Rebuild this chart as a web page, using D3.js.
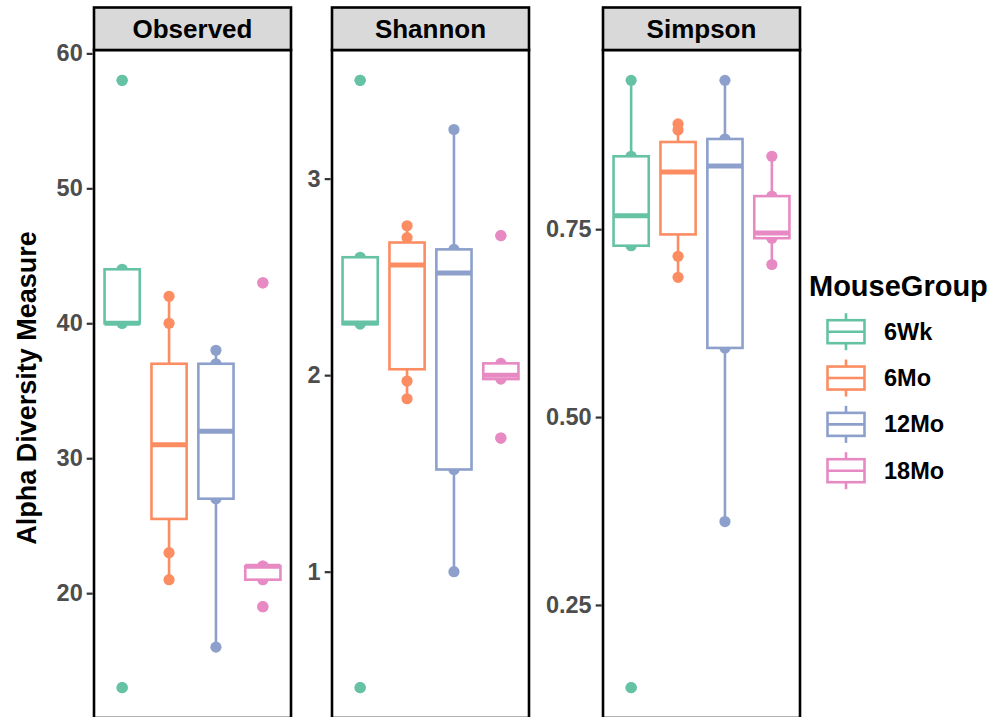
<!DOCTYPE html>
<html><head><meta charset="utf-8">
<script src="https://cdn.jsdelivr.net/npm/d3@7"></script>
<style>
body{margin:0;background:#fff}
svg{display:block}
text{font-family:"Liberation Sans",Arial,Helvetica,sans-serif;font-weight:bold}
</style>
</head><body><svg id="c" width="1006" height="717"></svg>
<script>
// ---- data ----
const groups = ["6Wk","6Mo","12Mo","18Mo"];
const metrics = ["Observed","Shannon","Simpson"];
const colors = ["#66C2A5","#FC8D62","#8DA0CB","#E78AC3"];
const observed6Wk  = [13,40,40,44,58];
const observed6Mo  = [21,23,28,31,34,40,42];
const observed12Mo = [16,27,32,37,38];
const observed18Mo = [19,21,22,22,43];
const shannon6Wk  = [0.41,2.26,2.265,2.6,3.5];
const shannon6Mo  = [1.88,1.97,2.09,2.56,2.65,2.70,2.76];
const shannon12Mo = [1.0,1.52,2.52,2.64,3.25];
const shannon18Mo = [1.68,1.98,2.0,2.06,2.71];
const simpson6Wk  = [0.14,0.728,0.768,0.847,0.948];
const simpson6Mo  = [0.686,0.714,0.772,0.826,0.85,0.882,0.89];
const simpson12Mo = [0.361,0.592,0.834,0.87,0.948];
const simpson18Mo = [0.703,0.738,0.745,0.794,0.847];
const observedTicks = [20,30,40,50,60];
const shannonTicks = [1,2,3];
const simpsonTicks = [0.25,0.5,0.75];
const yTitle = "Alpha Diversity Measure";
const legendTitle = "MouseGroup";

// ---- assembled ----
const seriesByMetric = [
  [observed6Wk, observed6Mo, observed12Mo, observed18Mo],
  [shannon6Wk, shannon6Mo, shannon12Mo, shannon18Mo],
  [simpson6Wk, simpson6Mo, simpson12Mo, simpson18Mo]
];
const ticksByMetric = [observedTicks, shannonTicks, simpsonTicks];
const formats = [d3.format("d"), d3.format("d"), d3.format(".2f")];

// ---- layout ----
const panelX = [[94,291],[332,529],[603,800]];
const panelTop = 50, panelBottom = 718, stripTop = 7.5;
const color = d3.scaleOrdinal().domain(groups).range(colors);
const svg = d3.select("#c");

function stats(arr){
  const s = arr.slice().sort(d3.ascending);
  const q1 = d3.quantile(s,0.25), med = d3.quantile(s,0.5), q3 = d3.quantile(s,0.75);
  const iqr = q3 - q1;
  const inl = s.filter(v => v >= q1 - 1.5*iqr && v <= q3 + 1.5*iqr);
  return {q1, med, q3, lo: d3.min(inl), hi: d3.max(inl), pts: s};
}

metrics.forEach((m, mi) => {
  const [x0, x1] = panelX[mi];
  const all = seriesByMetric[mi].flat();
  const [mn, mx] = d3.extent(all);
  const pad = (mx - mn) * 0.05;
  const y = d3.scaleLinear().domain([mn - pad, mx + pad]).range([panelBottom, panelTop]);
  const x = d3.scaleBand().domain(groups).range([x0, x1]).paddingInner(0).paddingOuter(0.1);
  const bw = x.bandwidth() * 0.75;

  const clipId = "clip" + mi;
  svg.append("clipPath").attr("id", clipId).append("rect")
    .attr("x", x0).attr("y", panelTop).attr("width", x1 - x0).attr("height", panelBottom - panelTop);

  const g = svg.append("g").attr("clip-path", `url(#${clipId})`);
  g.append("rect").attr("x", x0).attr("y", panelTop).attr("width", x1-x0).attr("height", panelBottom-panelTop).attr("fill","#fff");

  // points (underneath)
  groups.forEach((grp, gi) => {
    const data = seriesByMetric[mi][gi];
    const cx = x(grp) + x.bandwidth()/2;
    g.selectAll(null).data(data).enter().append("circle")
      .attr("cx", cx).attr("cy", d => y(d)).attr("r", 5.6).attr("fill", color(grp));
  });
  // boxplots
  groups.forEach((grp, gi) => {
    const st = stats(seriesByMetric[mi][gi]);
    const cx = x(grp) + x.bandwidth()/2;
    const c = color(grp);
    g.append("line").attr("x1", cx).attr("x2", cx).attr("y1", y(st.q3)).attr("y2", y(st.hi))
      .attr("stroke", c).attr("stroke-width", 2.6);
    g.append("line").attr("x1", cx).attr("x2", cx).attr("y1", y(st.q1)).attr("y2", y(st.lo))
      .attr("stroke", c).attr("stroke-width", 2.6);
    g.append("rect").attr("x", cx - bw/2).attr("width", bw)
      .attr("y", y(st.q3)).attr("height", Math.max(0.01, y(st.q1) - y(st.q3)))
      .attr("fill", "#fff").attr("stroke", c).attr("stroke-width", 2.6);
    g.append("line").attr("x1", cx - bw/2).attr("x2", cx + bw/2).attr("y1", y(st.med)).attr("y2", y(st.med))
      .attr("stroke", c).attr("stroke-width", 5);
    // outliers
    const outs = st.pts.filter(v => v < st.lo || v > st.hi);
    g.selectAll(null).data(outs).enter().append("circle")
      .attr("cx", cx).attr("cy", d => y(d)).attr("r", 5.6).attr("fill", c);
  });

  // panel border
  svg.append("rect").attr("x", x0).attr("y", panelTop).attr("width", x1-x0).attr("height", panelBottom-panelTop)
    .attr("fill","none").attr("stroke","#000").attr("stroke-width", 2.6);

  // strip
  svg.append("rect").attr("x", x0).attr("y", stripTop).attr("width", x1-x0).attr("height", panelTop - stripTop)
    .attr("fill","#D9D9D9").attr("stroke","#000").attr("stroke-width", 2.6);
  svg.append("text").attr("x", (x0+x1)/2).attr("y", (stripTop+panelTop)/2 + 9.3)
    .attr("text-anchor","middle").attr("font-size", 26).attr("fill","#000").text(m);

  // axis
  const ax = svg.append("g").attr("transform", `translate(${x0 - 1.3},0)`)
    .call(d3.axisLeft(y).tickValues(ticksByMetric[mi]).tickFormat(formats[mi]).tickSize(6).tickPadding(4));
  ax.select(".domain").remove();
  ax.selectAll(".tick line").attr("stroke","#333").attr("stroke-width", 2.2);
  ax.selectAll(".tick text").attr("fill","#4D4D4D").attr("font-size", 23.5)
    .attr("font-family", '"Liberation Sans",Arial,sans-serif').attr("font-weight","bold");
});

// y title
svg.append("text").attr("transform", "translate(36,388) rotate(-90)")
  .attr("text-anchor","middle").attr("font-size", 27).attr("fill","#000").text(yTitle);

// legend
svg.append("text").attr("x", 809).attr("y", 296).attr("font-size", 29).attr("fill","#000").text(legendTitle);
const legY = d3.scalePoint().domain(groups).range([331.7, 470.7]);
groups.forEach(grp => {
  const cy = legY(grp), cx = 846, c = color(grp);
  const lg = svg.append("g");
  lg.append("line").attr("x1", cx).attr("x2", cx).attr("y1", cy - 18.5).attr("y2", cy + 18.5)
    .attr("stroke", c).attr("stroke-width", 2.6);
  lg.append("rect").attr("x", cx - 18.5).attr("y", cy - 11.5).attr("width", 37).attr("height", 23)
    .attr("fill","#fff").attr("stroke", c).attr("stroke-width", 2.6);
  lg.append("line").attr("x1", cx - 18.5).attr("x2", cx + 18.5).attr("y1", cy).attr("y2", cy)
    .attr("stroke", c).attr("stroke-width", 2.6);
  svg.append("text").attr("x", 884).attr("y", cy + 8).attr("font-size", 23.5).attr("fill","#000").text(grp);
});
</script>
</body></html>
